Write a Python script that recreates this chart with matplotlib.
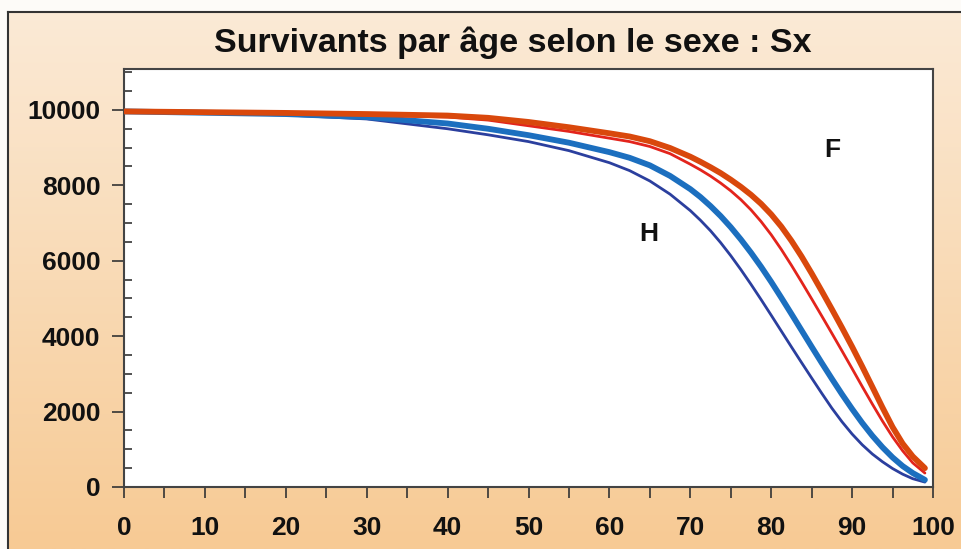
import numpy as np
import matplotlib
matplotlib.use("Agg")
import matplotlib.pyplot as plt
from matplotlib.ticker import MultipleLocator

plt.rcParams['font.family'] = ['Liberation Sans', 'DejaVu Sans']

ages = [0, 10, 20, 30, 40, 45, 50, 55, 60, 62.5, 65, 67.5, 70,
        71.25, 72.5, 73.75, 75, 76.25, 77.5, 78.75, 80, 81.25, 82.5, 83.75, 85,
        86.25, 87.5, 88.75, 90, 91.25, 92.5, 93.75, 95, 96.25, 97.5, 99]
f_thick = [9960, 9940, 9920, 9890, 9850, 9790, 9680, 9540, 9380, 9295, 9170, 8990, 8760,
           8625, 8480, 8325, 8150, 7960, 7750, 7510, 7230, 6905, 6530, 6115, 5665,
           5195, 4715, 4225, 3720, 3195, 2655, 2110, 1590, 1150, 810, 500]
f_thin = [9960, 9935, 9905, 9870, 9810, 9730, 9580, 9430, 9250, 9160, 9030, 8840, 8560,
          8410, 8245, 8060, 7855, 7620, 7350, 7040, 6690, 6300, 5880, 5440, 4990,
          4535, 4075, 3610, 3140, 2665, 2200, 1750, 1330, 960, 640, 370]
h_thick = [9960, 9925, 9890, 9810, 9640, 9500, 9330, 9130, 8880, 8730, 8530, 8250, 7900,
           7690, 7450, 7185, 6890, 6565, 6215, 5840, 5440, 5020, 4590, 4155, 3720,
           3290, 2870, 2460, 2070, 1700, 1360, 1055, 785, 555, 370, 190]
h_thin = [9960, 9915, 9865, 9760, 9500, 9340, 9160, 8920, 8600, 8390, 8115, 7765, 7330,
          7075, 6795, 6480, 6135, 5765, 5375, 4970, 4555, 4135, 3715, 3300, 2890,
          2485, 2090, 1730, 1405, 1120, 875, 670, 490, 340, 220, 130]

title = "Survivants par âge selon le sexe : Sx"
xticks = [0, 10, 20, 30, 40, 50, 60, 70, 80, 90, 100]
yticks = [0, 2000, 4000, 6000, 8000, 10000]

W, H = 961, 549
fig = plt.figure(figsize=(W / 100, H / 100), dpi=100)
fig.patch.set_facecolor('#fdfbf8')

# background gradient panel
bg = fig.add_axes([8 / W, 0, 1 - 8 / W, 1 - 12 / H], zorder=0)
top = np.array([251, 234, 214]) / 255
bot = np.array([247, 202, 148]) / 255
t = np.linspace(0, 1, 256)[:, None]
grad = top[None, :] * (1 - t) + bot[None, :] * t
bg.imshow(grad[:, None, :], aspect='auto', extent=[0, 1, 0, 1])
bg.set_xlim(0, 1)
bg.set_ylim(0, 1)
bg.set_xticks([])
bg.set_yticks([])
for s in ['right', 'bottom']:
    bg.spines[s].set_visible(False)
for s in ['left', 'top']:
    bg.spines[s].set_color('#333333')
    bg.spines[s].set_linewidth(1.5)

ax = fig.add_axes([124 / W, 1 - 487 / H, (933 - 124) / W, (487 - 69) / H], zorder=2)
ax.set_facecolor('white')
ax.plot(ages, h_thin, color='#2b3f9e', lw=2.0, solid_capstyle='round', solid_joinstyle='round', zorder=3)
ax.plot(ages, h_thick, color='#1c6fbf', lw=4.2, solid_capstyle='round', solid_joinstyle='round', zorder=4)
ax.plot(ages, f_thin, color='#e3241c', lw=2.0, solid_capstyle='round', solid_joinstyle='round', zorder=5)
ax.plot(ages, f_thick, color='#d9480c', lw=4.2, solid_capstyle='round', solid_joinstyle='round', zorder=6)

ax.set_xlim(0, 100)
ax.set_ylim(0, 11085)
ax.set_xticks(xticks)
ax.set_yticks(yticks)
ax.xaxis.set_minor_locator(MultipleLocator(5))
ax.yaxis.set_minor_locator(MultipleLocator(500))
ax.tick_params(axis='x', which='both', direction='out', length=8, width=1.2, color='#333333', pad=13)
ax.tick_params(axis='y', which='major', direction='out', length=9, width=1.2, color='#333333', pad=8)
ax.tick_params(axis='y', which='minor', direction='in', length=6, width=1.2, color='#333333')
for lab in ax.get_xticklabels() + ax.get_yticklabels():
    lab.set_fontsize(19)
    lab.set_fontweight('bold')
    lab.set_color('#111111')
for s in ax.spines.values():
    s.set_color('#444444')
    s.set_linewidth(1.5)

ax.text(64.9, 6700, 'H', fontsize=19, fontweight='bold', ha='center', va='center', color='#111111')
ax.text(87.6, 8930, 'F', fontsize=19, fontweight='bold', ha='center', va='center', color='#111111')

fig.text(513 / W, 1 - 43 / H, title, fontsize=24.5, fontweight='bold', ha='center', va='center', color='#111111')

fig.savefig('out.png', dpi=100, facecolor=fig.get_facecolor())
